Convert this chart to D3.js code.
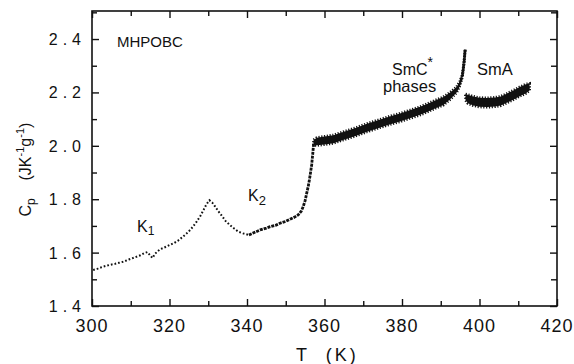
<!DOCTYPE html>
<html>
<head>
<meta charset="utf-8">
<script src="https://cdn.jsdelivr.net/npm/d3@7"></script>
<style>
  body { margin: 0; background: #fff; }
  text { font-family: "Liberation Sans", Arial, sans-serif; fill: #111; }
</style>
</head>
<body>
<div id="chart"></div>
<script>
// --- data ---
// crystal K1 region (sparse dotted points)
var tK1  = [300.3, 301.5, 303, 304.6, 306, 307, 308.1, 309.5, 311, 312.5, 313.5, 314.3, 315, 315.6, 316.3, 317.5, 318.5, 320,
            321.2, 322.3, 323.5, 324.9, 326, 327, 328, 328.8, 329.5, 330.3, 331, 331.8, 332.6, 333.5, 334.5, 335.6, 336.7, 337.8, 339, 340.5];
var cpK1 = [1.535, 1.540, 1.548, 1.554, 1.558, 1.562, 1.566, 1.574, 1.582, 1.590, 1.598, 1.602, 1.590, 1.580, 1.596, 1.612, 1.618, 1.628,
            1.636, 1.646, 1.660, 1.678, 1.696, 1.716, 1.738, 1.760, 1.780, 1.796, 1.788, 1.772, 1.755, 1.738, 1.718, 1.703, 1.690, 1.678, 1.672, 1.666];

// crystal K2 region and the jump (dense points)
var tK2  = [340.5, 342, 343.4, 345, 346, 347.5, 348.5, 350, 351.1, 352.3, 353.2, 354, 354.5, 355, 355.4, 355.8, 356.1, 356.4, 356.7, 357.0, 357.2];
var cpK2 = [1.666, 1.676, 1.685, 1.692, 1.697, 1.703, 1.710, 1.717, 1.725, 1.733, 1.741, 1.755, 1.772, 1.795, 1.822, 1.848, 1.872, 1.900, 1.930, 1.975, 2.010];

// SmC* phases (noisy band: centre and half spread)
var tSmC  = [357.2, 358, 360, 362.3, 365, 368, 371, 374, 377, 379.5, 382, 384.5, 386.5, 388.5, 390.7, 392.5, 394.1, 395, 395.6, 396.0, 396.3];
var cpSmC = [2.012, 2.016, 2.020, 2.025, 2.038, 2.052, 2.068, 2.082, 2.096, 2.106, 2.118, 2.130, 2.142, 2.155, 2.168, 2.188, 2.210, 2.235, 2.265, 2.310, 2.360];
var spreadSmC = [0.010, 0.014, 0.015, 0.015, 0.015, 0.015, 0.015, 0.015, 0.015, 0.015, 0.015, 0.015, 0.015, 0.015, 0.015, 0.013, 0.010, 0.007, 0.004, 0.002, 0.001];

// SmA phase
var tSmA  = [396.4, 397, 398.4, 400, 402, 404, 405.5, 407, 408.7, 410.5, 412, 412.9];
var cpSmA = [2.182, 2.175, 2.168, 2.163, 2.162, 2.164, 2.168, 2.178, 2.190, 2.204, 2.214, 2.220];
var spreadSmA = [0.011, 0.016, 0.017, 0.017, 0.017, 0.017, 0.017, 0.017, 0.017, 0.017, 0.017, 0.013];

// ticks
var xTicks = [300, 320, 340, 360, 380, 400, 420];
var xMinor = [310, 330, 350, 370, 390, 410];
var yTicks = [1.4, 1.6, 1.8, 2.0, 2.2, 2.4];
var yMinor = [1.5, 1.7, 1.9, 2.1, 2.3, 2.5];

var margin = {top: 11, right: 17, bottom: 58, left: 92},
    width = 574 - margin.left - margin.right,
    height = 364 - margin.top - margin.bottom;

var svg = d3.select("#chart")
    .append("svg")
    .attr("width", 574)
    .attr("height", 364)
    .append("g")
    .attr("transform", "translate(" + margin.left + "," + margin.top + ")");

var x = d3.scaleLinear().domain([300, 420]).range([0, width]);
var y = d3.scaleLinear().domain([1.4, 2.505]).range([height, 0]);

// frame
svg.append("rect")
    .attr("width", width)
    .attr("height", height)
    .attr("fill", "none")
    .attr("stroke", "#111")
    .attr("stroke-width", 1.6);

// inward ticks on all four sides
function ticks(axis, vals, size, tr) {
    var g = svg.append("g")
        .attr("transform", tr)
        .call(axis.tickValues(vals).tickSize(-size).tickFormat(""));
    g.select(".domain").remove();
    g.selectAll("line").attr("stroke", "#111").attr("stroke-width", 1.4);
    return g;
}
ticks(d3.axisBottom(x), xTicks, 7, "translate(0," + height + ")");
ticks(d3.axisBottom(x), xMinor, 5, "translate(0," + height + ")");
ticks(d3.axisTop(x), xTicks, 7, "translate(0,0)");
ticks(d3.axisTop(x), xMinor, 5, "translate(0,0)");
ticks(d3.axisLeft(y), yTicks, 7, "translate(0,0)");
ticks(d3.axisLeft(y), yMinor, 5, "translate(0,0)");
ticks(d3.axisRight(y), yTicks, 7, "translate(" + width + ",0)");
ticks(d3.axisRight(y), yMinor, 6, "translate(" + width + ",0)");

// tick labels
svg.append("g").selectAll("text")
    .data(xTicks).enter().append("text")
    .attr("x", function (d) { return x(d); })
    .attr("y", height + 26)
    .attr("text-anchor", "middle")
    .style("font-size", "18px")
    .style("letter-spacing", "1px")
    .text(function (d) { return d; });

svg.append("g").selectAll("text")
    .data(yTicks).enter().append("text")
    .attr("x", -6)
    .attr("y", function (d) { return y(d) + 6; })
    .attr("text-anchor", "end")
    .style("font-size", "16px")
    .style("letter-spacing", "5px")
    .text(function (d) { return d.toFixed(1); });

// axis titles
svg.append("text")
    .attr("x", 204)
    .attr("y", height + 55)
    .style("font-size", "18px")
    .style("letter-spacing", "3px")
    .style("white-space", "pre")
    .text("T  (K)");

var yl = svg.append("text")
    .attr("transform", "translate(" + (-61) + "," + (height / 2 + 58) + ") rotate(-90)")
    .style("font-size", "16px")
    .style("white-space", "pre");
yl.append("tspan").text("C");
yl.append("tspan").attr("dy", 4).style("font-size", "12px").text("p");
yl.append("tspan").attr("dy", -4).text("    (JK");
yl.append("tspan").attr("dy", -7).style("font-size", "11px").text("-1");
yl.append("tspan").attr("dy", 7).text("g");
yl.append("tspan").attr("dy", -7).style("font-size", "11px").text("-1");
yl.append("tspan").attr("dy", 7).text(")");

// K1 dotted run
var line = d3.line()
    .x(function (d) { return x(d[0]); })
    .y(function (d) { return y(d[1]); });

svg.append("path")
    .attr("d", line(d3.zip(tK1, cpK1)))
    .attr("fill", "none")
    .attr("stroke", "#111")
    .attr("stroke-width", 2)
    .attr("stroke-dasharray", "1.7 2");

svg.append("path")
    .attr("d", line(d3.zip(tK2, cpK2)))
    .attr("fill", "none")
    .attr("stroke", "#111")
    .attr("stroke-width", 2.8)
    .attr("stroke-dasharray", "3 1");

// noisy bands for the liquid-crystal phases
var band = d3.area()
    .x(function (d) { return x(d[0]); })
    .y0(function (d) { return y(d[1] - d[2]); })
    .y1(function (d) { return y(d[1] + d[2]); });

[[tSmC, cpSmC, spreadSmC], [tSmA, cpSmA, spreadSmA]].forEach(function (s) {
    var pts = d3.zip(s[0], s[1], s[2]);
    svg.append("path")
        .attr("d", band(pts))
        .attr("fill", "#111")
        .attr("stroke", "#111")
        .attr("stroke-width", 3)
        .attr("stroke-dasharray", "1.2 1.6");
    svg.append("path")
        .attr("d", line(pts))
        .attr("fill", "none")
        .attr("stroke", "#111")
        .attr("stroke-width", 2.4)
        .attr("stroke-dasharray", "4 0.8");
});

// annotations
function note(tx, ty, str, size) {
    return svg.append("text")
        .attr("x", tx)
        .attr("y", ty)
        .style("font-size", size + "px")
        .text(str);
}
note(25, 36, "MHPOBC", 15);
var k1 = note(45, 221, "K", 16);
k1.append("tspan").attr("dy", 3).style("font-size", "12px").text("1");
var k2 = note(156, 190, "K", 16);
k2.append("tspan").attr("dy", 4).style("font-size", "13px").text("2");
var smc = note(300, 64, "SmC", 16);
smc.append("tspan").attr("dy", -8).style("font-size", "14px").text("*");
note(291, 81, "phases", 16.5);
note(385, 64, "SmA", 16.5);
</script>
</body>
</html>
